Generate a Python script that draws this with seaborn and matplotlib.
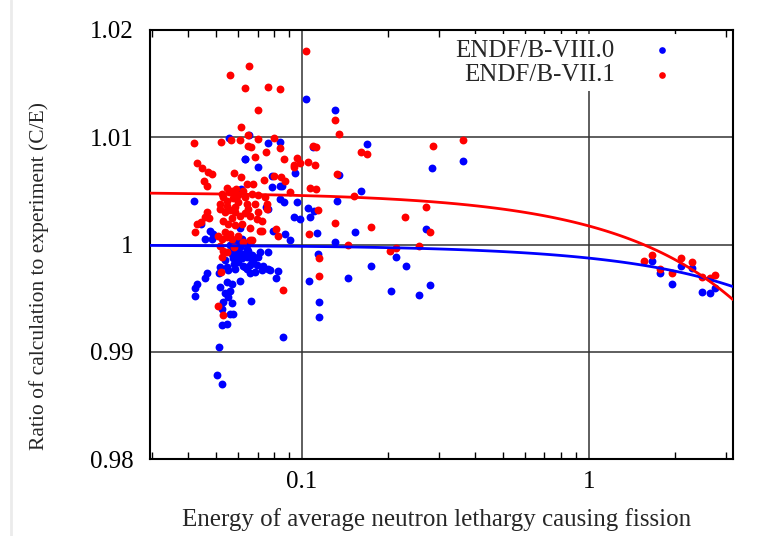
import numpy as np
import pandas as pd
import matplotlib
matplotlib.use("Agg")
import matplotlib.pyplot as plt
from matplotlib.lines import Line2D
import seaborn as sns

# ---------------- data ----------------
viii_x = [0.1035, 0.1303, 0.0558, 0.0655, 0.0763, 0.0840, 0.0634, 0.0701, 0.0786, 0.0840,
          0.0943, 0.1090, 0.1349, 0.0836, 0.0866, 0.0958, 0.0420, 0.1047, 0.1099, 0.0936,
          0.0984, 0.1066, 0.1327, 0.0746, 0.1680, 0.3630, 0.2844, 0.0850, 0.1601, 0.1125,
          0.0873, 0.0908, 0.1530, 0.1303, 0.2698, 0.1134, 0.2126, 0.1739, 0.2298, 0.1450,
          0.1058, 0.2037, 0.2793, 0.2556, 0.1149, 0.1146, 0.0857, 0.0827, 0.0812, 0.0763,
          0.0733, 0.0699, 0.0668, 0.0663, 0.0714,
          0.0424, 0.0424, 0.0430, 0.0466, 0.0459, 0.0444, 0.0478, 0.0491, 0.0459, 0.0485,
          0.0515, 0.0553, 0.0584, 0.0641, 0.0686, 0.0724, 0.0518, 0.0546, 0.0569, 0.0608,
          0.0561, 0.0539, 0.0553, 0.0532, 0.0569, 0.0525, 0.0561, 0.0576, 0.0525, 0.0546,
          0.0515, 0.0507, 0.0527, 0.0659,
          0.0608, 0.0617, 0.0659, 0.0576, 0.0600, 0.0624, 0.0592, 0.0641, 0.0668, 0.0569,
          0.0617, 0.0677, 0.0576, 0.0641, 0.0763, 0.0794, 0.0773, 0.0633, 0.0546, 0.0518,
          0.0763, 0.0633, 0.0613, 0.0784,
          0.0560, 0.0590, 0.0610, 0.0630, 0.0650, 0.0600, 0.0580, 0.0540, 0.0620, 0.0660,
          0.0700,
          1.662, 1.768, 1.942, 2.087, 2.291, 2.482, 2.640, 2.748]
viii_y = [1.0136, 1.0125, 1.0099, 1.0102, 1.0095, 1.0096, 1.0080, 1.0072, 1.0054, 1.0055,
          1.0067, 1.0091, 1.0065, 1.0042, 1.0040, 1.0040, 1.0041, 1.0034, 1.0031, 1.0026,
          1.0024, 1.0026, 1.0041, 1.0035, 1.0094, 1.0078, 1.0071, 1.0055, 1.0050, 1.0011,
          1.0010, 1.0004, 1.0012, 1.0002, 1.0014, 0.9991, 0.9988, 0.9980, 0.9980, 0.9969,
          0.9966, 0.9957, 0.9962, 0.9953, 0.9946, 0.9932, 0.9914, 0.9975, 0.9969, 0.9977,
          0.9980, 0.9981, 0.9985, 0.9947, 0.9993,
          0.9952, 0.9959, 0.9963, 0.9973, 0.9969, 1.0019, 1.0013, 1.0010, 1.0005, 1.0005,
          0.9973, 0.9976, 0.9977, 0.9977, 0.9974, 0.9976, 0.9960, 0.9965, 0.9963, 0.9966,
          0.9957, 0.9955, 0.9951, 0.9946, 0.9945, 0.9940, 0.9935, 0.9935, 0.9925, 0.9926,
          0.9904, 0.9878, 0.9870, 0.9973,
          1.0015, 1.0005, 1.0002, 0.9996, 0.9994, 0.9991, 0.9990, 0.9988, 0.9990, 0.9991,
          0.9987, 0.9985, 0.9987, 0.9996, 0.9993, 1.0013, 0.9976, 0.9979, 0.9979, 0.9979,
          1.0033, 1.0080, 1.0052, 1.0064,
          1.0000, 1.0002, 0.9998, 1.0001, 0.9994, 0.9984, 0.9982, 0.9986, 0.9980, 0.9981,
          0.9988,
          0.9985, 0.9973, 0.9963, 0.9980, 0.9978, 0.9956, 0.9955, 0.9959]

vii_x = [0.1035, 0.0655, 0.0560, 0.0634, 0.0761, 0.0840, 0.0701, 0.0614, 0.0419, 0.0522,
         0.0566, 0.0608, 0.0650, 0.0647, 0.0704, 0.0797, 0.0838, 0.0663, 0.0688, 0.0749,
         0.0868, 0.0958, 0.0940, 0.0936, 0.0984, 0.1047, 0.1110, 0.0430, 0.0447, 0.0471,
         0.0486, 0.0454, 0.0468, 0.0578, 0.0612, 0.0643, 0.0677, 0.0735, 0.0797, 0.0845,
         0.0873, 0.1066, 0.1122, 0.0910, 0.1303, 0.1349, 0.1321, 0.1303, 0.1140, 0.1119,
         0.1095, 0.1605, 0.1688, 0.2853, 0.3648, 0.1521, 0.2698, 0.2285, 0.1058, 0.1735,
         0.2793, 0.1450, 0.2025, 0.2121, 0.2556, 0.1146, 0.1146, 0.0857,
         0.0812, 0.0827, 0.0724, 0.0659,
         0.0424, 0.0430, 0.0445, 0.0459, 0.0466, 0.0474,
         0.0511, 0.0532, 0.0522,
         0.0546, 0.0569, 0.0525, 0.0532, 0.0546, 0.0576, 0.0600, 0.0633, 0.0668, 0.0704,
         0.0743, 0.0518, 0.0546, 0.0584, 0.0641, 0.0686, 0.0753,
         0.0518, 0.0539, 0.0561, 0.0584, 0.0608, 0.0633, 0.0659, 0.0695, 0.0724, 0.0659,
         0.0714, 0.0532, 0.0553, 0.0584, 0.0617, 0.0511, 0.0525, 0.0546, 0.0569, 0.0518,
         0.0532, 0.0525, 0.0546, 0.0753, 0.0668,
         0.0555, 0.0590, 0.0620, 0.0600, 0.0570, 0.0650, 0.0700, 0.0540, 0.0560, 0.0600,
         0.0620, 0.0580,
         1.558, 1.662, 1.768, 1.942, 2.087, 2.291, 2.482, 2.640, 2.748]
vii_y = [1.0180, 1.0166, 1.0158, 1.0146, 1.0147, 1.0145, 1.0125, 1.0110, 1.0095, 1.0096,
         1.0097, 1.0097, 1.0102, 1.0092, 1.0098, 1.0099, 1.0090, 1.0091, 1.0082, 1.0086,
         1.0080, 1.0081, 1.0074, 1.0072, 1.0076, 1.0077, 1.0074, 1.0076, 1.0071, 1.0068,
         1.0066, 1.0059, 1.0055, 1.0067, 1.0063, 1.0056, 1.0056, 1.0060, 1.0064, 1.0063,
         1.0059, 1.0053, 1.0052, 1.0049, 1.0116, 1.0103, 1.0066, 1.0020, 1.0032, 1.0091,
         1.0092, 1.0086, 1.0084, 1.0092, 1.0097, 1.0045, 1.0035, 1.0026, 1.0010, 1.0016,
         1.0012, 1.0000, 0.9994, 0.9997, 0.9999, 0.9987, 0.9971, 0.9958,
         1.0014, 1.0008, 1.0013, 1.0004,
         1.0012, 1.0019, 1.0021, 1.0026, 1.0030, 1.0025,
         0.9943, 0.9934, 0.9974,
         1.0053, 1.0050, 1.0047, 1.0044, 1.0041, 1.0043, 1.0046, 1.0044, 1.0047, 1.0046,
         1.0044, 1.0038, 1.0036, 1.0035, 1.0038, 1.0038, 1.0038,
         1.0033, 1.0030, 1.0032, 1.0030, 1.0027, 1.0029, 1.0027, 1.0024, 1.0022, 1.0015,
         1.0013, 1.0022, 1.0019, 1.0018, 1.0019, 1.0008, 1.0005, 1.0007, 1.0005, 0.9999,
         0.9994, 0.9988, 0.9993, 1.0033, 1.0004,
         1.0049, 1.0052, 1.0050, 1.0040, 1.0025, 1.0033, 1.0030, 1.0012, 1.0010, 1.0008,
         1.0002, 0.9998,
         0.9985, 0.9990, 0.9977, 0.9973, 0.9987, 0.9984, 0.9970, 0.9969, 0.9972]

series_names = ["ENDF/B-VIII.0", "ENDF/B-VII.1"]
x_ticks = [0.1, 1]
x_tick_labels = ["0.1", "1"]
y_ticks = [0.98, 0.99, 1.00, 1.01, 1.02]
y_tick_labels = ["0.98", "0.99", "1", "1.01", "1.02"]
x_label = "Energy of average neutron lethargy causing fission"
y_label = "Ratio of calculation to experiment (C/E)"

# ---------------- style ----------------
sns.set_theme(style="white")
plt.rcParams["font.family"] = ["Liberation Serif", "DejaVu Serif"]

fig = plt.figure(figsize=(7.6, 5.36), dpi=100)
ax = fig.add_axes([150/760, 1 - 459/536, (733-150)/760, (459-30)/536])

df_b = pd.DataFrame({"x": viii_x, "y": viii_y})
df_r = pd.DataFrame({"x": vii_x, "y": vii_y})

ax.set_xscale("log")
ax.set_xlim(0.0295, 3.18)
ax.set_ylim(0.98, 1.02)

sns.scatterplot(data=df_b, x="x", y="y", ax=ax, color="#0000ff", s=32,
                linewidth=0, label=series_names[0], zorder=3)
sns.scatterplot(data=df_r, x="x", y="y", ax=ax, color="#ff0000", s=32,
                linewidth=0, label=series_names[1], zorder=3)

sns.regplot(data=df_b, x="x", y="y", ax=ax, scatter=False, ci=None, truncate=False,
            color="#0000ff", line_kws={"lw": 2, "zorder": 4})
sns.regplot(data=df_r, x="x", y="y", ax=ax, scatter=False, ci=None, truncate=False,
            color="#ff0000", line_kws={"lw": 2, "zorder": 4})
ax.set_xlim(0.0295, 3.18)
ax.set_ylim(0.98, 1.02)

# grid & ticks
ax.set_xticks(x_ticks)
ax.set_xticklabels(x_tick_labels)
ax.set_yticks(y_ticks)
ax.set_yticklabels(y_tick_labels)
ax.grid(True, which="major", color="#333333", lw=1.1)
ax.tick_params(axis="both", which="major", length=0, labelsize=18, colors="black")
ax.tick_params(axis="x", which="major", pad=9)
ax.tick_params(axis="y", which="major", pad=12)
ax.tick_params(axis="x", which="minor", direction="in", length=5, width=1,
               top=True, bottom=True, color="black")
ax.yaxis.set_minor_locator(matplotlib.ticker.NullLocator())
for sp in ax.spines.values():
    sp.set_color("black")
    sp.set_linewidth(1.5)

ax.set_xlabel(x_label, fontsize=18)
ax.xaxis.set_label_coords((437 - 150) / 583, (459 - 508) / 429)
ax.set_ylabel(y_label, fontsize=15.5)
ax.yaxis.set_label_coords((49 - 150) / 583, (459 - 276) / 429)

h, l = ax.get_legend_handles_labels()
leg = ax.legend(h[:2], l[:2], loc="upper right", bbox_to_anchor=(0.909, 0.99),
                markerfirst=False, frameon=True, framealpha=1, facecolor="white",
                edgecolor="none", fontsize=18, handlelength=1.0, handletextpad=1.4,
                borderpad=0.2, labelspacing=0.08, borderaxespad=0, markerscale=0.85)
leg.set_zorder(5)

fig.add_artist(Line2D([0.014, 0.014], [0, 1], transform=fig.transFigure,
                      color="#ebebeb", lw=2))

fig.savefig("out.png", dpi=100)
